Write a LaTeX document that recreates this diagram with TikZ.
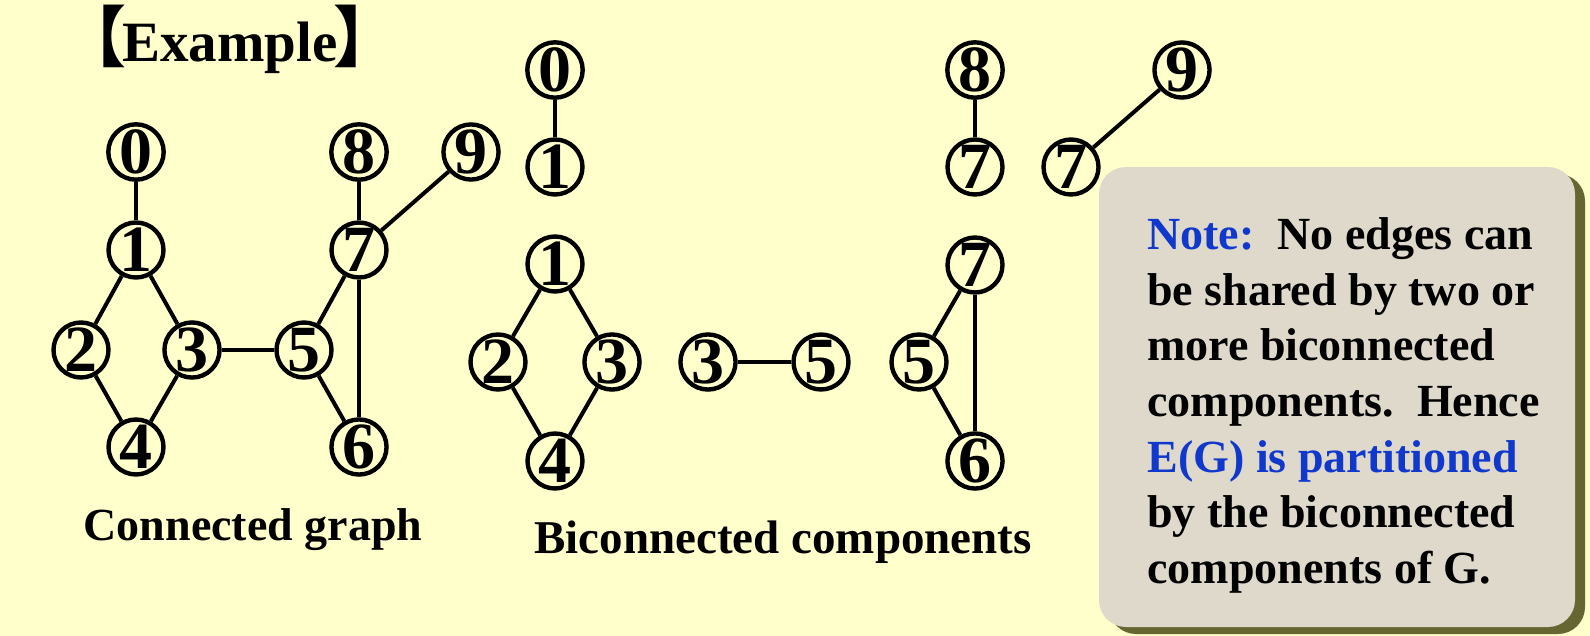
\documentclass[tikz,border=0pt]{standalone}
\usepackage{fontspec}
\setmainfont{Liberation Serif}
\newfontfamily\cjkfont{Noto Sans CJK SC}
\usetikzlibrary{positioning,shadows}
\definecolor{slidebg}{RGB}{255,255,204}
\definecolor{notebg}{RGB}{222,217,203}
\definecolor{noteshadow}{RGB}{102,102,51}
\definecolor{noteblue}{RGB}{16,56,204}

\begin{document}
\begin{tikzpicture}[
    x=0.5pt, y=-0.5pt,
    vertex/.style={draw, circle, line width=2.2pt, minimum size=27.5pt, inner sep=0pt,
      fill=slidebg, font=\fontsize{33}{33}\selectfont\bfseries},
    link/.style={line width=2pt},
    caption/.style={anchor=base, inner sep=0pt, font=\fontsize{23}{23}\selectfont\bfseries},
    notebox/.style={fill=notebg, rounded corners=13.5pt, minimum width=238pt, minimum height=230pt,
      drop shadow={shadow xshift=5pt, shadow yshift=-3.5pt, fill=noteshadow, opacity=1}},
    on grid
  ]
  \useasboundingbox[fill=slidebg] (0,0) rectangle (1590,636);

  % connected graph
  \node[vertex] (g0) at (136,152) {0};
  \node[vertex, below=49pt of g0] (g1) {1};
  \node[vertex, below left=50pt and 27.5pt of g1] (g2) {2};
  \node[vertex, below right=50pt and 28pt of g1] (g3) {3};
  \node[vertex, below=98.5pt of g1] (g4) {4};
  \node[vertex, right=56pt of g3] (g5) {5};
  \node[vertex, above right=50pt and 27.5pt of g5] (g7) {7};
  \node[vertex, below right=48.5pt and 27.5pt of g5] (g6) {6};
  \node[vertex, above=49pt of g7] (g8) {8};
  \node[vertex, right=56pt of g8] (g9) {9};

  \draw[link] (g0) -- (g1);
  \draw[link] (g1) -- (g2);
  \draw[link] (g1) -- (g3);
  \draw[link] (g2) -- (g4);
  \draw[link] (g3) -- (g4);
  \draw[link] (g3) -- (g5);
  \draw[link] (g5) -- (g7);
  \draw[link] (g5) -- (g6);
  \draw[link] (g7) -- (g6);
  \draw[link] (g7) -- (g8);
  \draw[link] (g7) -- (g9);

  % biconnected components
  \node[vertex] (b0) at (555,70) {0};
  \node[vertex, below=48.5pt of b0] (b1) {1};
  \draw[link] (b0) -- (b1);

  \node[vertex, below=48.5pt of b1] (d1) {1};
  \node[vertex, below left=49pt and 28.5pt of d1] (d2) {2};
  \node[vertex, below right=49pt and 28.5pt of d1] (d3) {3};
  \node[vertex, below=98.5pt of d1] (d4) {4};
  \draw[link] (d1) -- (d2);
  \draw[link] (d1) -- (d3);
  \draw[link] (d2) -- (d4);
  \draw[link] (d3) -- (d4);

  \node[vertex, right=48pt of d3] (e3) {3};
  \node[vertex, right=56.5pt of e3] (e5) {5};
  \draw[link] (e3) -- (e5);

  \node[vertex, right=49pt of e5] (f5) {5};
  \node[vertex, above right=48.5pt and 28pt of f5] (f7) {7};
  \node[vertex, below right=49.5pt and 28pt of f5] (f6) {6};
  \draw[link] (f5) -- (f7);
  \draw[link] (f5) -- (f6);
  \draw[link] (f7) -- (f6);

  \node[vertex, above=49pt of f7] (h7) {7};
  \node[vertex, above=48.5pt of h7] (h8) {8};
  \draw[link] (h8) -- (h7);

  \node[vertex, right=48pt of h7] (k7) {7};
  \node[vertex, above right=48.5pt and 55.5pt of k7] (k9) {9};
  \draw[link] (k7) -- (k9);

  % captions
  \node[caption, font=\fontsize{28.5}{28.5}\selectfont\bfseries] (title) at (230,62)
    {{\cjkfont\fontsize{33}{33}\selectfont 【}\kern-2pt Example\kern-2pt{\cjkfont\fontsize{33}{33}\selectfont 】}};
  \node[caption] (cgcap) at (253,540) {Connected graph};
  \node[caption, font=\fontsize{23.5}{23.5}\selectfont\bfseries] (bccap) at (783,553) {Biconnected components};

  % note
  \node[notebox] (note) at (1337,397) {};
  \node[anchor=north west, inner sep=0pt, align=left,
    font=\fontsize{23}{27.85}\selectfont\bfseries] (notetxt) at (1147,217)
    {\textcolor{noteblue}{Note:}\ \ No edges can\\
     be shared by two or\\
     more biconnected\\
     components.\ \ Hence\\
     \textcolor{noteblue}{E(G) is partitioned}\\
     by the biconnected\\
     components of G.};
\end{tikzpicture}
\end{document}
